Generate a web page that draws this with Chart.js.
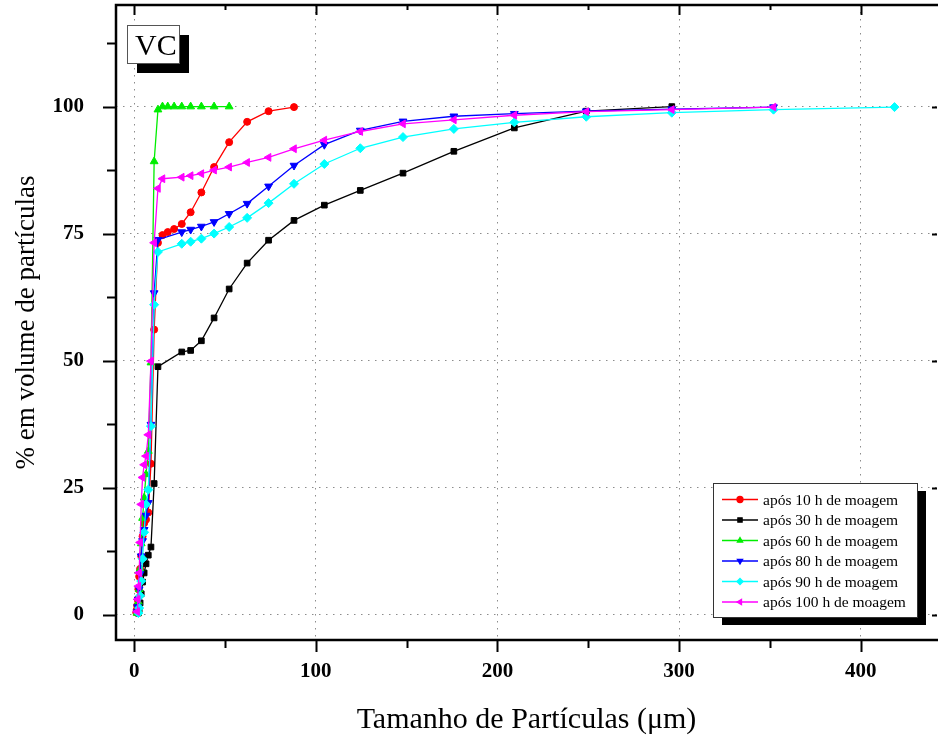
<!DOCTYPE html>
<html>
<head>
<meta charset="utf-8">
<script src="https://cdn.jsdelivr.net/npm/chart.js@4.4.0/dist/chart.umd.min.js"></script>
<style>
	html, body { margin: 0; padding: 0; background: #fff; }
	#wrap { width: 938px; height: 739px; }
</style>
</head>
<body>
<div id="wrap"><canvas id="myChart" width="938" height="739"></canvas></div>
<script>
// particle size (um) and cumulative volume (%)
const size_10h = [1.16, 1.38, 1.64, 1.94, 2.31, 2.75, 3.27, 3.89, 4.62, 5.5, 6.54, 7.78, 9.25, 11, 13.1, 15.6, 18.5, 22, 26.2, 31.1, 37, 44, 52.3, 62.2, 74, 88];
const vol_10h = [0.4, 0.9, 1.8, 3.0, 5.0, 7.5, 9.0, 11.5, 15.4, 18.0, 18.7, 20.1, 29.7, 56.1, 73.2, 74.7, 75.3, 75.9, 76.9, 79.2, 83.1, 88.1, 93.0, 97.0, 99.1, 99.9];

const size_30h = [2.31, 2.75, 3.27, 3.89, 4.62, 5.5, 6.54, 7.78, 9.25, 11, 13.1, 26.2, 31.1, 37, 44, 52.3, 62.2, 74, 88, 104.7, 124.5, 148, 176, 209.3, 248.9, 296];
const vol_30h = [0.3, 1.0, 2.3, 4.1, 6.4, 8.2, 10.0, 11.7, 13.3, 25.8, 48.8, 51.7, 52.0, 53.9, 58.4, 64.1, 69.2, 73.7, 77.6, 80.6, 83.5, 86.9, 91.2, 95.8, 99.1, 100];

const size_60h = [1.64, 1.94, 2.31, 2.75, 3.27, 3.89, 4.62, 5.5, 6.54, 7.78, 9.25, 11, 13.1, 15.6, 18.5, 22, 26.2, 31.1, 37, 44, 52.3];
const vol_60h = [0.3, 1.0, 2.5, 5.0, 9.0, 14.0, 19.0, 23.0, 27.6, 32.2, 49.6, 89.2, 99.4, 100, 100, 100, 100, 100, 100, 100, 100];

const size_80h = [1.64, 1.94, 2.31, 2.75, 3.27, 3.89, 4.62, 5.5, 6.54, 7.78, 9.25, 11, 13.1, 26.2, 31.1, 37, 44, 52.3, 62.2, 74, 88, 104.7, 124.5, 148, 176, 209.3, 248.9, 296, 352];
const vol_80h = [0.5, 1.5, 3.0, 5.0, 8.0, 11.5, 14.5, 16.7, 19.5, 22.0, 37.4, 63.3, 73.8, 75.3, 75.8, 76.4, 77.3, 78.9, 80.9, 84.3, 88.4, 92.5, 95.3, 97.1, 98.1, 98.6, 99.1, 99.5, 99.9];

const size_90h = [2.31, 2.75, 3.27, 3.89, 4.62, 5.5, 6.54, 7.78, 9.25, 11, 13.1, 26.2, 31.1, 37, 44, 52.3, 62.2, 74, 88, 104.7, 124.5, 148, 176, 209.3, 248.9, 296, 352, 418.6];
const vol_90h = [0.3, 1.3, 3.7, 6.6, 11.0, 16.2, 21.7, 24.6, 37.1, 61.0, 71.4, 73.0, 73.4, 74.0, 75.0, 76.3, 78.1, 81.0, 84.8, 88.7, 91.8, 94.0, 95.6, 96.9, 98.0, 98.8, 99.4, 99.9];

const size_100h = [1.64, 1.94, 2.31, 2.75, 3.27, 3.89, 4.62, 5.5, 6.54, 7.78, 9.25, 11, 13.1, 15.6, 26.2, 31.1, 37, 44, 52.3, 62.2, 74, 88, 104.7, 124.5, 148, 176, 209.3, 248.9, 296, 352];
const vol_100h = [0.6, 3.0, 5.6, 8.2, 14.2, 21.7, 27.0, 29.5, 31.2, 35.4, 49.9, 73.2, 83.9, 85.8, 86.1, 86.4, 86.8, 87.5, 88.1, 89.0, 90.0, 91.7, 93.4, 95.1, 96.6, 97.4, 98.3, 99.0, 99.4, 99.9];

const series_labels = ['após 10 h de moagem', 'após 30 h de moagem', 'após 60 h de moagem', 'após 80 h de moagem', 'após 90 h de moagem', 'após 100 h de moagem'];
const x_ticks = [0, 100, 200, 300, 400];
const x_minor = [50, 150, 250, 350];
const y_ticks = [0, 25, 50, 75, 100];
const y_minor = [12.5, 37.5, 62.5, 87.5, 112.5];

const serif = "'Liberation Serif', 'DejaVu Serif', serif";

function pts(xs, ys) {
	return xs.map((v, i) => ({ x: v, y: ys[i] }));
}

// no automatic label padding, the plot box is fixed
function noPad(scale) {
	scale.paddingTop = 0;
	scale.paddingBottom = 0;
	scale.paddingLeft = 0;
	scale.paddingRight = 0;
}

const styles = [
	{ color: '#ff0000', pointStyle: 'circle', rotation: 0, radius: 3.5 },
	{ color: '#000000', pointStyle: 'rect', rotation: 0, radius: 4 },
	{ color: '#00ee00', pointStyle: 'triangle', rotation: 0, radius: 4.5 },
	{ color: '#0000ff', pointStyle: 'triangle', rotation: 180, radius: 4.5 },
	{ color: '#00ffff', pointStyle: 'rectRot', rotation: 0, radius: 4.5 },
	{ color: '#ff00ff', pointStyle: 'triangle', rotation: -90, radius: 4.5 },
];

const all_data = [
	pts(size_10h, vol_10h),
	pts(size_30h, vol_30h),
	pts(size_60h, vol_60h),
	pts(size_80h, vol_80h),
	pts(size_90h, vol_90h),
	pts(size_100h, vol_100h),
];

const datasets = all_data.map((d, i) => ({
	label: series_labels[i],
	data: d,
	showLine: true,
	borderColor: styles[i].color,
	backgroundColor: styles[i].color,
	borderWidth: 1.3,
	pointStyle: styles[i].pointStyle,
	pointRotation: styles[i].rotation,
	pointRadius: styles[i].radius,
	pointBorderWidth: 1,
	order: 5 - i,
}));

// frame, ticks, "VC" box and legend
const framePlugin = {
	id: 'framePlugin',
	afterDraw(chart) {
		const { ctx, chartArea: a, scales } = chart;
		const x = scales.x, y = scales.y;
		ctx.save();
		ctx.strokeStyle = '#000';
		ctx.lineCap = 'butt';

		// ticks
		ctx.lineWidth = 2;
		ctx.beginPath();
		x_ticks.forEach((v) => {
			const px = Math.round(x.getPixelForValue(v)) + 0.5;
			ctx.moveTo(px, a.bottom); ctx.lineTo(px, a.bottom + 12);
			ctx.moveTo(px, a.top); ctx.lineTo(px, a.top + 10);
		});
		x_minor.forEach((v) => {
			const px = Math.round(x.getPixelForValue(v)) + 0.5;
			ctx.moveTo(px, a.bottom); ctx.lineTo(px, a.bottom + 8);
			ctx.moveTo(px, a.top); ctx.lineTo(px, a.top + 5);
		});
		y_ticks.forEach((v) => {
			const py = Math.round(y.getPixelForValue(v)) + 0.5;
			ctx.moveTo(a.left, py); ctx.lineTo(a.left - 13, py);
			ctx.moveTo(a.right, py); ctx.lineTo(a.right - 5, py);
		});
		y_minor.forEach((v) => {
			const py = Math.round(y.getPixelForValue(v)) + 0.5;
			ctx.moveTo(a.left, py); ctx.lineTo(a.left - 9, py);
		});
		ctx.stroke();

		// axes frame (left, bottom, top)
		ctx.lineWidth = 2.5;
		ctx.beginPath();
		ctx.moveTo(a.right + 2, a.top);
		ctx.lineTo(a.left, a.top);
		ctx.lineTo(a.left, a.bottom);
		ctx.lineTo(a.right + 2, a.bottom);
		ctx.stroke();

		// VC label box
		ctx.fillStyle = '#000';
		ctx.fillRect(137, 35, 52, 38);
		ctx.fillStyle = '#fff';
		ctx.fillRect(127, 25, 52, 38);
		ctx.lineWidth = 1;
		ctx.strokeStyle = '#555';
		ctx.strokeRect(127.5, 25.5, 52, 38);
		ctx.fillStyle = '#000';
		ctx.font = '30px ' + serif;
		ctx.textAlign = 'left';
		ctx.textBaseline = 'alphabetic';
		ctx.fillText('VC', 135, 55);

		// legend
		const lx = 713, ly = 483, lw = 204, lh = 134;
		ctx.fillStyle = '#000';
		ctx.fillRect(lx + 9, ly + 8, lw, lh);
		ctx.fillStyle = '#fff';
		ctx.fillRect(lx, ly, lw, lh);
		ctx.strokeStyle = '#333';
		ctx.strokeRect(lx + 0.5, ly + 0.5, lw, lh);
		ctx.font = '15.5px ' + serif;
		ctx.textBaseline = 'middle';
		series_labels.forEach((lab, i) => {
			const ry = 499.5 + i * 20.5;
			const s = styles[i];
			ctx.strokeStyle = s.color;
			ctx.lineWidth = 1.3;
			ctx.beginPath();
			ctx.moveTo(722, ry); ctx.lineTo(758, ry);
			ctx.stroke();
			ctx.fillStyle = s.color;
			Chart.helpers.drawPoint(ctx, { pointStyle: s.pointStyle, radius: 3, rotation: s.rotation, borderWidth: 1 }, 740, ry);
			ctx.fillStyle = '#000';
			ctx.fillText(lab, 763, ry + 1);
		});
		ctx.restore();
	},
};

const ctx = document.getElementById('myChart').getContext('2d');
const myChart = new Chart(ctx, {
	type: 'scatter',
	data: { datasets: datasets },
	options: {
		responsive: false,
		animation: false,
		layout: { autoPadding: false, padding: { left: 0, right: 1, top: 5, bottom: 0 } },
		plugins: { legend: { display: false }, tooltip: { enabled: false } },
		scales: {
			x: {
				type: 'linear',
				min: -10,
				max: 442,
				afterFit: (scale) => { scale.height = 99; noPad(scale); },
				afterBuildTicks: (scale) => { scale.ticks = x_ticks.map((v) => ({ value: v })); },
				border: { display: false, dash: [1.5, 5.5] },
				grid: { color: '#8c8c8c', lineWidth: 1, drawTicks: false },
				ticks: { color: '#000', padding: 19, font: { family: serif, size: 21, weight: 'bold' } },
				title: {
					display: true,
					text: 'Tamanho de Partículas (μm)',
					color: '#000',
					font: { family: serif, size: 30 },
					padding: { top: 0, bottom: 1 },
				},
			},
			y: {
				type: 'linear',
				min: -5,
				max: 120,
				afterFit: (scale) => { scale.width = 116; noPad(scale); },
				afterBuildTicks: (scale) => { scale.ticks = y_ticks.map((v) => ({ value: v })); },
				border: { display: false, dash: [1.5, 5.5] },
				grid: { color: '#8c8c8c', lineWidth: 1, drawTicks: false },
				ticks: { color: '#000', padding: 32, font: { family: serif, size: 21, weight: 'bold' } },
				title: {
					display: true,
					text: '% em volume de partículas',
					color: '#000',
					font: { family: serif, size: 27 },
					padding: { top: 11, bottom: 0 },
				},
			},
		},
	},
	plugins: [framePlugin],
});
</script>
</body>
</html>
